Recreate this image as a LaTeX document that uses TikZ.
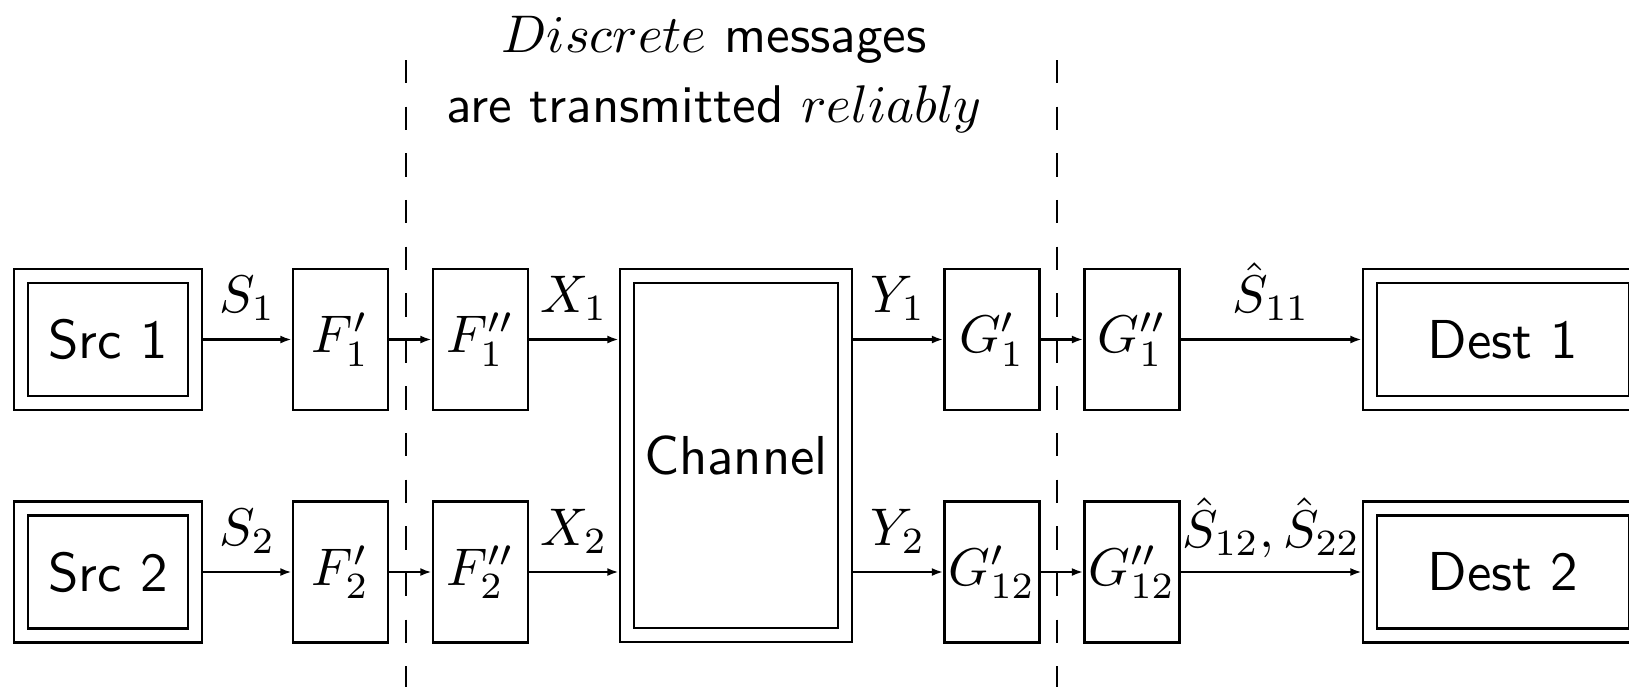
\documentclass[tikz,border=0pt]{standalone}
\usetikzlibrary{arrows.meta}
\begin{document}
\begin{tikzpicture}[x=0.1887pt,y=-0.1887pt,
  font=\sffamily,
  bigtext/.style={font=\sffamily\fontsize{10.35}{12.4}\selectfont},
  blk/.style={draw,line width=0.55pt,inner sep=0pt,minimum width=17.93pt,minimum height=26.61pt},
  inbox/.style={draw,line width=0.55pt,inner sep=0pt,minimum width=30.19pt,minimum height=21.32pt,bigtext},
  outbox/.style={draw,line width=0.55pt,inner sep=0pt,minimum width=35.48pt,minimum height=26.61pt},
  dinbox/.style={draw,line width=0.55pt,inner sep=0pt,minimum width=47.55pt,minimum height=21.32pt,bigtext},
  doutbox/.style={draw,line width=0.55pt,inner sep=0pt,minimum width=52.84pt,minimum height=26.61pt},
  arr/.style={line width=0.4pt,-{Latex[length=2.1pt,width=1.5pt]}},
  lab/.style={above,midway},
  sep/.style={line width=0.45pt,dash pattern=on 4.4pt off 4.4pt}]
\useasboundingbox (0,0) rectangle (1629,686);
% sources
\node[outbox] (s1o) at (108,339.5) {};
\node[inbox] (s1) at (108,339.5) {Src 1};
\node[outbox] (s2o) at (108,572) {};
\node[inbox] (s2) at (108,572) {Src 2};
% encoders
\node[blk] (f1a) at (340.5,339.5) {$F'_1$};
\node[blk] (f2a) at (340.5,572) {$F'_2$};
\node[blk] (f1b) at (480.5,339.5) {$F''_1$};
\node[blk] (f2b) at (480.5,572) {$F''_2$};
% channel
\node[draw,line width=0.55pt,inner sep=0pt,minimum width=43.78pt,minimum height=70.39pt] (cho) at (736,455.5) {};
\node[draw,line width=0.55pt,inner sep=0pt,minimum width=38.50pt,minimum height=65.10pt,bigtext] (ch) at (736,455.5) {Channel};
% decoders
\node[blk] (g1a) at (992,339.5) {$G'_1$};
\node[blk] (g2a) at (992,572) {$G'_{12}$};
\node[blk] (g1b) at (1132,339.5) {$G''_1$};
\node[blk] (g2b) at (1132,572) {$G''_{12}$};
% destinations
\node[doutbox] (d1o) at (1503,339.5) {};
\node[dinbox] (d1) at (1503,339.5) {Dest 1};
\node[doutbox] (d2o) at (1503,572) {};
\node[dinbox] (d2) at (1503,572) {Dest 2};
% connectors
\draw[arr] (s1o) -- node[lab] {$S_1$} (f1a);
\draw[arr] (s2o) -- node[lab] {$S_2$} (f2a);
\draw[arr] (f1a) -- (f1b);
\draw[arr] (f2a) -- (f2b);
\draw[arr] (f1b.east) -- node[lab] {$X_1$} (f1b.east -| cho.west);
\draw[arr] (f2b.east) -- node[lab] {$X_2$} (f2b.east -| cho.west);
\draw[arr] (g1a.west -| cho.east) -- node[lab] {$Y_1$} (g1a.west);
\draw[arr] (g2a.west -| cho.east) -- node[lab] {$Y_2$} (g2a.west);
\draw[arr] (g1a) -- (g1b);
\draw[arr] (g2a) -- (g2b);
\draw[arr] (g1b) -- node[lab] {$\hat{S}_{11}$} (d1o);
\draw[arr] (g2b) -- node[lab,inner sep=2.5pt] {$\hat{S}_{12}, \hat{S}_{22}$} (d2o);
% separators
\coordinate (l1t) at (406,60);
\coordinate (l1b) at (406,700);
\coordinate (l2t) at (1057,60);
\coordinate (l2b) at (1057,700);
\draw[sep] (l1t) -- (l1b);
\draw[sep] (l2t) -- (l2b);
% title
\node[anchor=base] (t1) at (714,52) {$Discrete$ messages};
\node[anchor=base] (t2) at (714,122) {are transmitted $reliably$};
\end{tikzpicture}
\end{document}
